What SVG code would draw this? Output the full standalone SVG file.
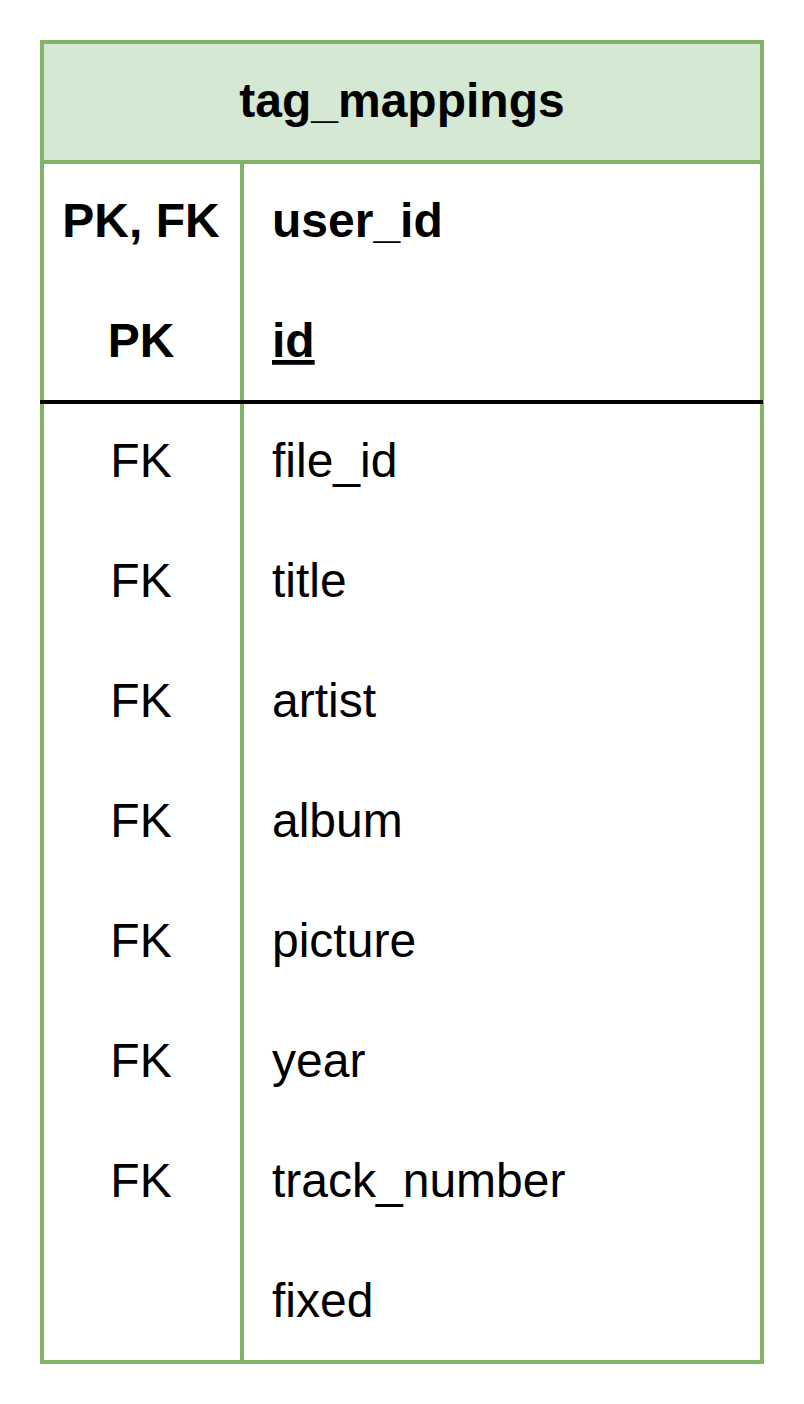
<svg xmlns="http://www.w3.org/2000/svg" width="804" height="1404" viewBox="0 0 804 1404">
<style>
.t{font-family:"Liberation Sans",Arial,sans-serif;font-size:48px;fill:#000}
.b{font-weight:bold}
.k{text-anchor:middle}
.g{stroke:#82b366;stroke-width:4;fill:none}
</style>
<rect width="804" height="1404" fill="#ffffff"/>
<g id="table">
<rect x="42" y="42" width="720" height="1320" fill="#ffffff" stroke="#82b366" stroke-width="4"/>
<rect id="header" x="42" y="42" width="720" height="120" fill="#d5e8d4" stroke="#82b366" stroke-width="4"/>
<text class="t b k" x="402" y="117">tag_mappings</text>
</g>
<g id="connectors">
<line class="g" x1="242" y1="162" x2="242" y2="1362"/>
<line x1="40" y1="402" x2="763" y2="402" stroke="#000" stroke-width="4"/>
</g>
<g id="row-user_id"><text class="t b k" x="141" y="237">PK, FK</text><text class="t b" x="272" y="237">user_id</text></g>
<g id="row-id"><text class="t b k" x="141" y="357">PK</text><text class="t b" x="272" y="357" text-decoration="underline">id</text></g>
<g id="row-file_id"><text class="t k" x="141" y="477">FK</text><text class="t" x="272" y="477">file_id</text></g>
<g id="row-title"><text class="t k" x="141" y="597">FK</text><text class="t" x="272" y="597">title</text></g>
<g id="row-artist"><text class="t k" x="141" y="717">FK</text><text class="t" x="272" y="717">artist</text></g>
<g id="row-album"><text class="t k" x="141" y="837">FK</text><text class="t" x="272" y="837">album</text></g>
<g id="row-picture"><text class="t k" x="141" y="957">FK</text><text class="t" x="272" y="957">picture</text></g>
<g id="row-year"><text class="t k" x="141" y="1077">FK</text><text class="t" x="272" y="1077">year</text></g>
<g id="row-track_number"><text class="t k" x="141" y="1197">FK</text><text class="t" x="272" y="1197">track_number</text></g>
<g id="row-fixed"><text class="t" x="272" y="1317">fixed</text></g>
</svg>
